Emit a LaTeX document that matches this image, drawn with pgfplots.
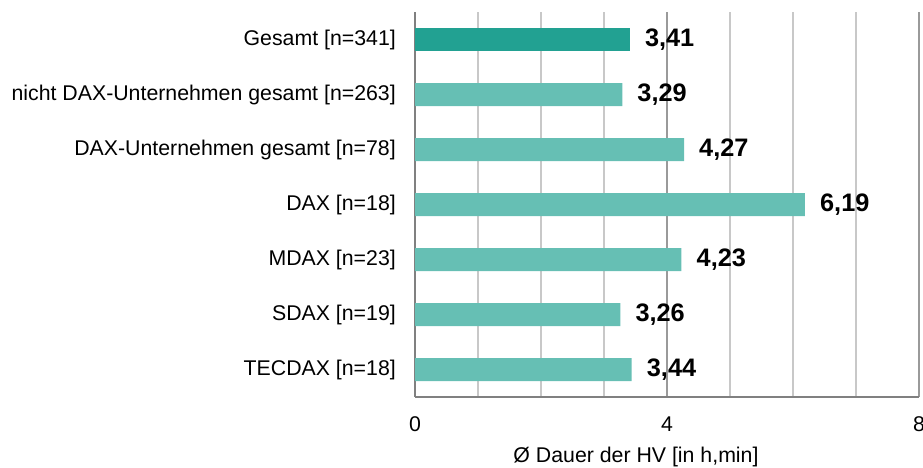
\documentclass[border=0pt]{standalone}
\usepackage{fontspec}
\setmainfont{Liberation Sans}
\usepackage{pgfplots}
\pgfplotsset{compat=1.18}
\definecolor{barDark}{HTML}{22A192}
\definecolor{barLight}{HTML}{66BFB4}
\definecolor{gridLight}{HTML}{C8C8C8}
\definecolor{gridMid}{HTML}{9A9A9A}
\definecolor{axisGray}{HTML}{808080}
\begin{document}
\begin{tikzpicture}[x=1pt,y=1pt]
\begin{axis}[
  at={(415pt,70pt)}, anchor=south west,
  scale only axis, width=504pt, height=385pt,
  xbar, bar width=23pt, y dir=reverse,
  xmin=0, xmax=8, ymin=-0.5, ymax=6.5,
  clip=false,
  axis x line*=bottom, axis y line*=left,
  axis line style={draw=axisGray, line width=1.6pt, -},
  xtick={0,4,8}, minor xtick={1,2,3,5,6,7,8},
  xmajorgrids, xminorgrids,
  major grid style={draw=gridMid, line width=1.2pt},
  minor grid style={draw=gridLight, line width=1.3pt},
  major tick length=0pt, minor tick length=0pt,
  ytick={0,1,2,3,4,5,6},
  yticklabels={{Gesamt [n=341]},{nicht DAX-Unternehmen gesamt [n=263]},{DAX-Unternehmen gesamt [n=78]},{DAX [n=18]},{MDAX [n=23]},{SDAX [n=19]},{TECDAX [n=18]}},
  /pgf/number format/assume math mode=true,
  yticklabel style={font=\fontsize{21.3}{25}\selectfont, anchor=east, inner sep=0pt, xshift=-19pt},
  xticklabel style={font=\fontsize{21.3}{25}\selectfont, anchor=base, inner sep=0pt, yshift=-34.5pt},
  xlabel={Ø Dauer der HV [in h,min]},
  xlabel style={font=\fontsize{21.3}{25}\selectfont, at={(axis description cs:0.5,0)}, anchor=base, inner sep=0pt, yshift=-65.5pt, xshift=-31pt},
  nodes near coords={\pgfmathprintnumber[fixed,fixed zerofill,precision=2,use comma]{\pgfplotspointmeta}},
  every node near coord/.append style={font=\fontsize{25.3}{30}\selectfont\bfseries, anchor=west, inner sep=0pt, xshift=15pt, text=black},
]
\addplot[fill=barDark, draw=none, bar shift=0pt] coordinates {(3.41,0)};
\addplot[fill=barLight, draw=none, bar shift=0pt] coordinates {(3.29,1) (4.27,2) (6.19,3) (4.23,4) (3.26,5) (3.44,6)};
\end{axis}
\pgfresetboundingbox
\path (0,0) rectangle (923,467);
\end{tikzpicture}
\end{document}
